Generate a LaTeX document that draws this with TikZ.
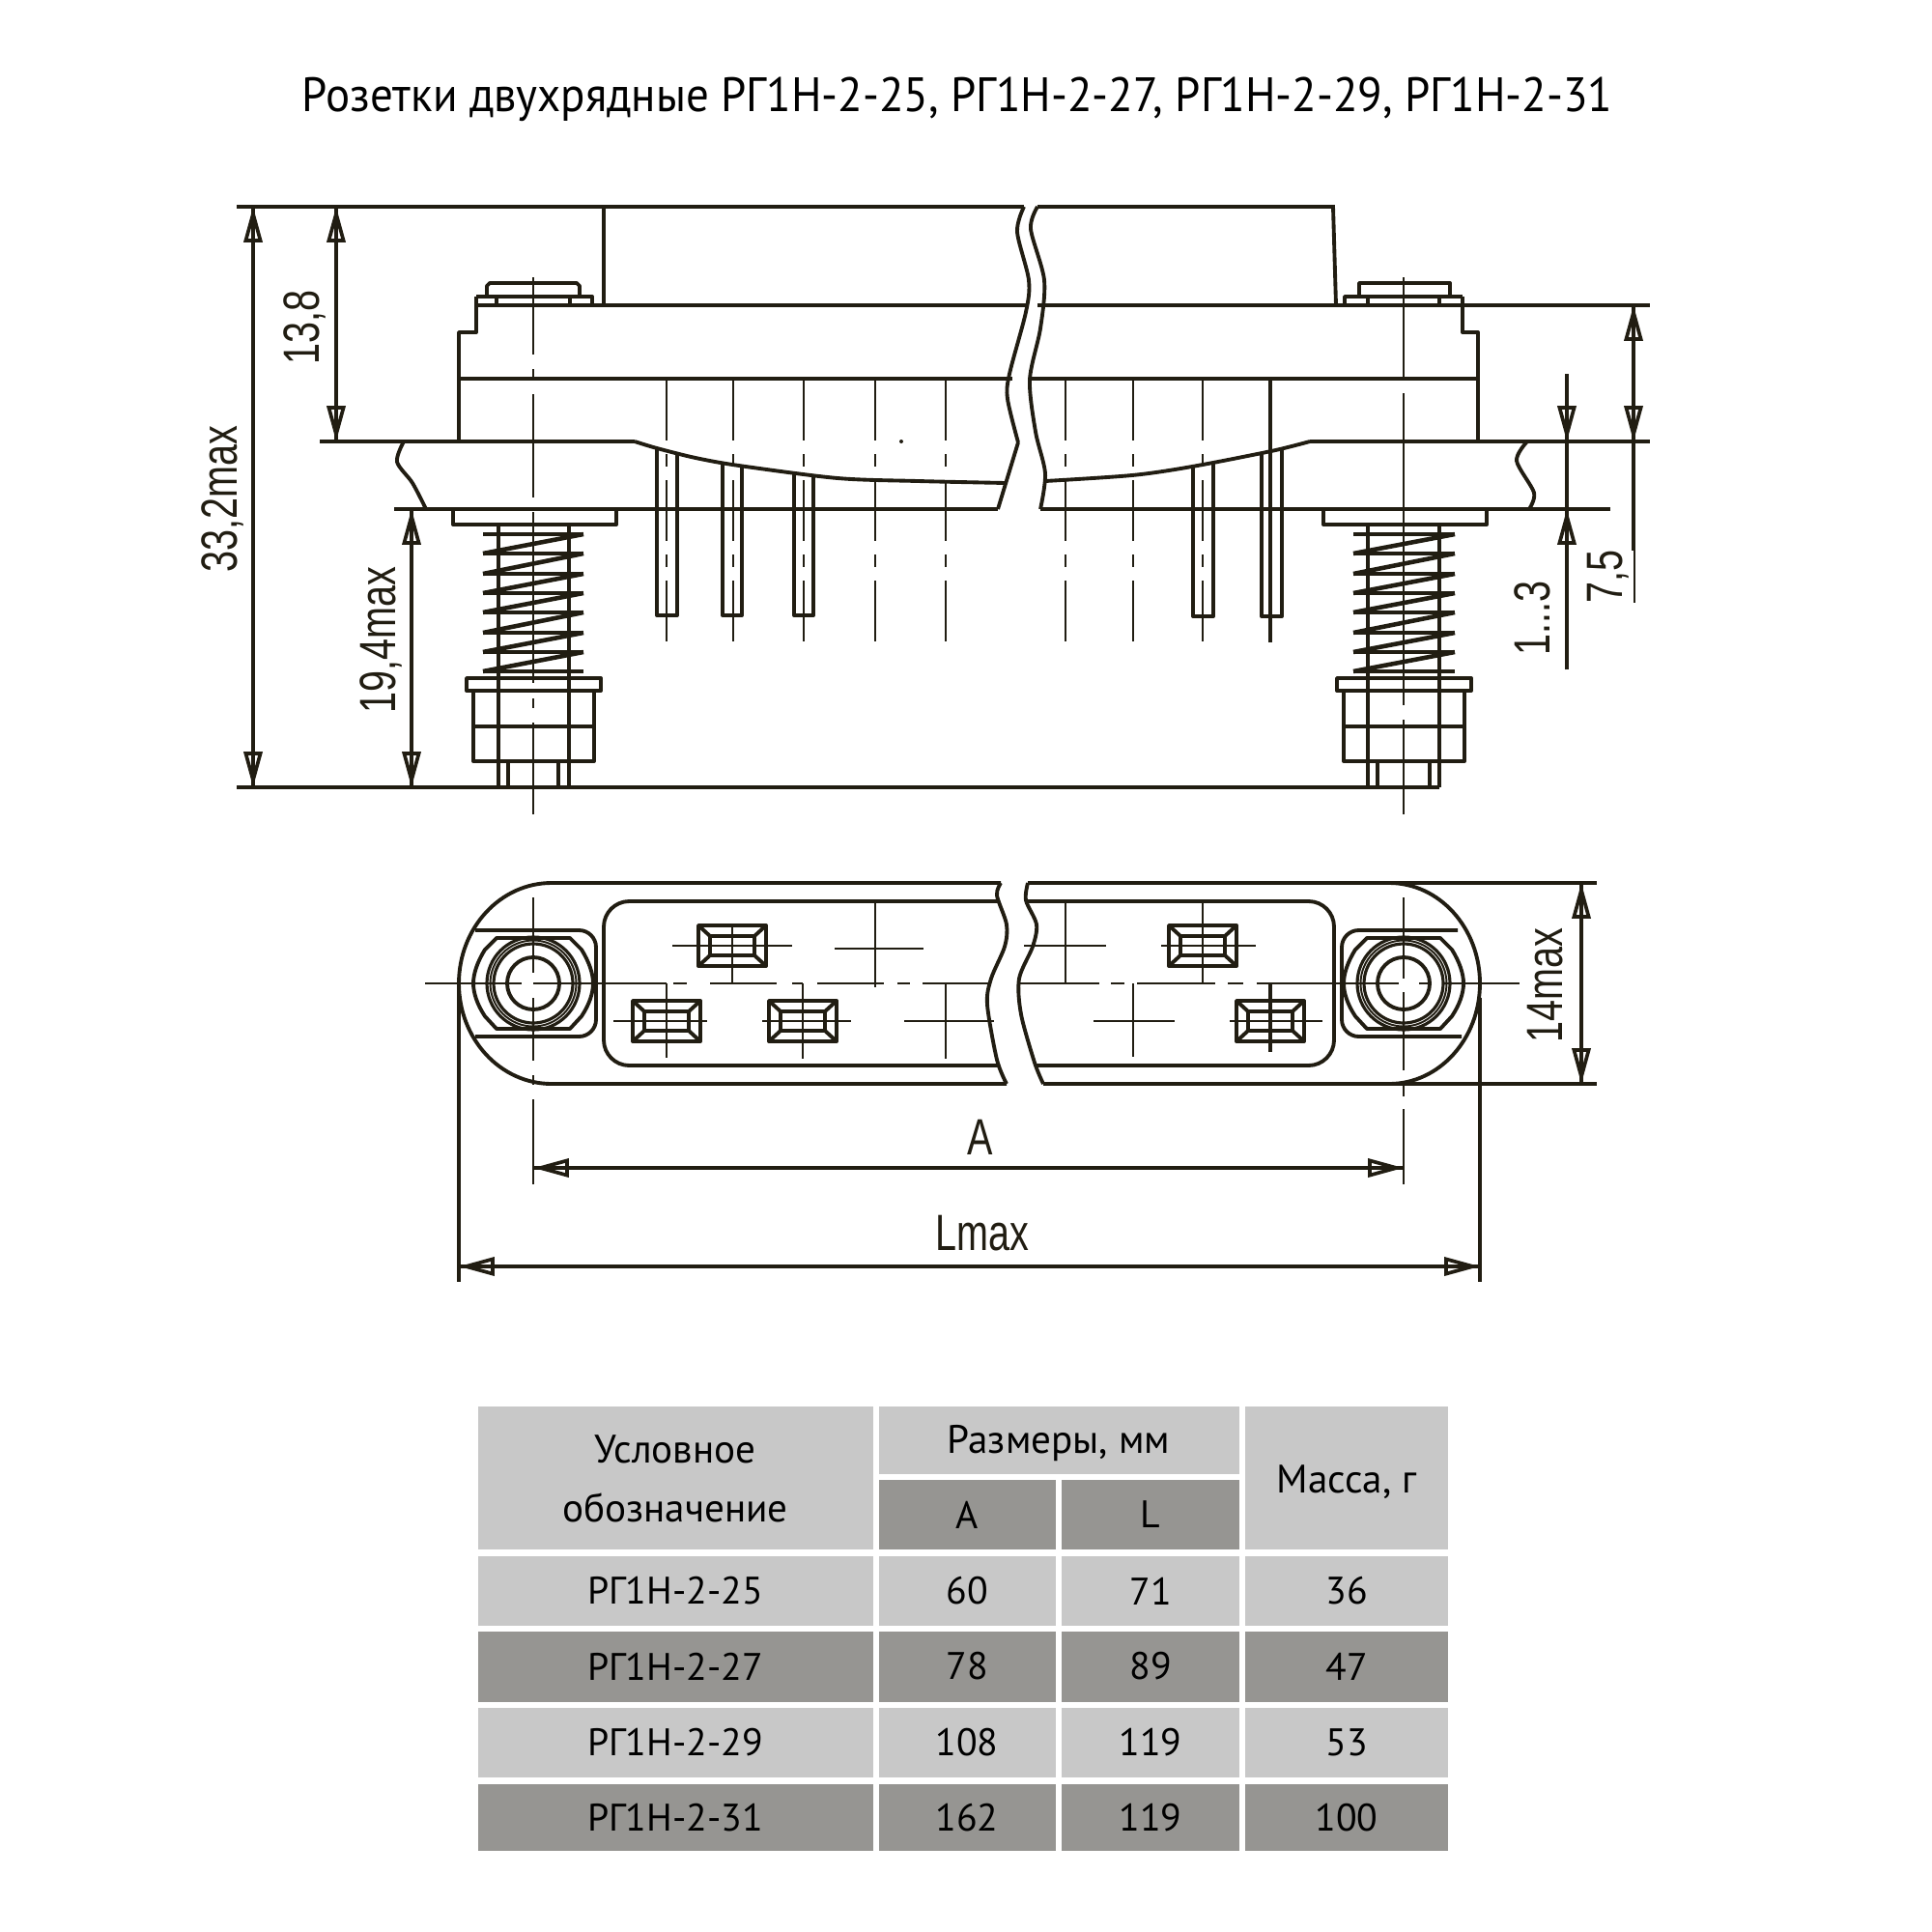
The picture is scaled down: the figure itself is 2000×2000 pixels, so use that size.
\documentclass[tikz,border=0pt]{standalone}
\usepackage{fontspec}
\usetikzlibrary{arrows.meta}
\newfontfamily\dimfont[FakeStretch=0.75]{Liberation Sans}
\newfontfamily\labelfont{PT Sans}
\newfontfamily\titlefont[FakeStretch=0.94]{PT Sans}
\definecolor{inkDark}{HTML}{211D12}
\definecolor{cellLight}{HTML}{C8C8C8}
\definecolor{cellDark}{HTML}{969592}
\tikzstyle{outline}=[draw=inkDark, line width = 1.1pt, line join = round]
\tikzstyle{coil}=[draw=inkDark, line width = 1.3pt, line join = round]
\tikzstyle{ring}=[draw=inkDark, line width = 0.9pt]
\tikzstyle{axis}=[draw=inkDark, line width = 0.55pt]
\tikzstyle{pinAxis}=[axis, dash pattern = on 17.9pt off 4pt on 3.7pt off 4pt]
\tikzstyle{extLine}=[draw=inkDark, line width = 1.1pt]
\tikzstyle{dimLine}=[draw=inkDark, line width = 1.05pt]
\tikzstyle{dimEnd}=[dimLine, -{Triangle[open, length = 10.5pt, width = 5.4pt]}, postaction = {draw, arrows = -}]
\tikzstyle{dimBoth}=[dimLine, {Triangle[open, length = 10.5pt, width = 5.4pt]}-{Triangle[open, length = 10.5pt, width = 5.4pt]}, postaction = {draw, arrows = -}]
\tikzstyle{dimText}=[inner sep = 0pt, text = inkDark, font = \dimfont\fontsize{15}{15}\selectfont]
\tikzstyle{cellText}=[inner sep = 0pt, text = black, font = \labelfont\fontsize{11.3}{11.3}\selectfont]
\tikzstyle{headText}=[inner sep = 0pt, text = black, font = \labelfont\fontsize{11.7}{11.7}\selectfont]
\newcommand{\contactBox}[2]{
\begin{scope}[shift = {(#1,#2)}]
\draw[outline] (-35,-21) rectangle (35,21);
\draw[outline] (-23,-10) rectangle (23,10);
\draw[outline] (-35,-21) -- (-23,-10) (35,-21) -- (23,-10) (-35,21) -- (-23,10) (35,21) -- (23,10);
\end{scope}}
\begin{document}
\begin{tikzpicture}[x = 0.01cm, y = -0.01cm]
\useasboundingbox (0,0) rectangle (2000,2000);
\node[inner sep = 0pt, text = black, font = \titlefont\fontsize{14.2}{14.2}\selectfont] (title) at (991,103) {Розетки двухрядные РГ1Н-2-25, РГ1Н-2-27, РГ1Н-2-29, РГ1Н-2-31};
% front view
\draw[extLine] (245,214) -- (1060,214);
\draw[extLine] (1074,214) -- (1380,214) -- (1383,316);
\draw[outline] (625,214) -- (625,316);
\draw[outline] (493,316) -- (1062,316);
\draw[extLine] (1074,316) -- (1708,316);
\draw[outline] (493,307) -- (493,344) -- (475,344) -- (475,457);
\draw[outline] (1514,307) -- (1514,344) -- (1530,344) -- (1530,457);
\draw[outline] (475,392) -- (1048,392);
\draw[outline] (1067,392) -- (1530,392);
\draw[extLine] (331,457) -- (657,457);
\draw[extLine] (1356,457) -- (1708,457);
\draw[extLine] (408,527) -- (1033,527);
\draw[extLine] (1077,527) -- (1667,527);
\draw[extLine] (245,815) -- (1490,815);
\draw[outline] plot[smooth] coordinates {(657,457) (680,464) (720,474) (765,482) (867,495) (950,498) (1041,500)};
\draw[outline] plot[smooth] coordinates {(1082,498) (1172,492) (1234,483) (1316,467) (1356,457)};
\draw[outline] plot[smooth] coordinates {(1060,214) (1053,240) (1065,290) (1062,323) (1045,387) (1043,413) (1054,458)};
\draw[outline] (1054,458) -- (1033,527);
\draw[outline] plot[smooth] coordinates {(1074,214) (1067,237) (1081,290) (1077,340) (1066,393) (1072,447) (1082,490) (1077,527)};
\draw[outline] plot[smooth] coordinates {(418,457) (411,478) (427,500) (441,527)};
\draw[outline] plot[smooth] coordinates {(1581,457) (1570,477) (1588,510) (1583,527)};
\fill[inkDark] (933,457) circle (2);
% bolt heads
\draw[outline] (504,307) -- (504,296) -- (507,293) -- (597,293) -- (600,296) -- (600,307);
\draw[outline] (493,307) -- (613,307) -- (613,316);
\draw[outline] (514,307) -- (514,316) (590,307) -- (590,316);
\draw[outline] (1407,307) -- (1407,293) -- (1501,293) -- (1501,307);
\draw[outline] (1392,316) -- (1392,307) -- (1514,307);
\draw[outline] (1416,307) -- (1416,316) (1490,307) -- (1490,316);
% flanges, rods and caps
\draw[outline] (469,527) -- (469,543) -- (638,543) -- (638,527);
\draw[outline] (1370,527) -- (1370,543) -- (1539,543) -- (1539,527);
\draw[outline] (516,543) -- (516,815) (589,543) -- (589,815);
\draw[outline] (1416,543) -- (1416,815) (1490,543) -- (1490,815);
\draw[outline] (483,702) rectangle (622,715);
\draw[outline] (1384,702) rectangle (1523,715);
\draw[outline] (490,715) -- (490,788) -- (615,788) -- (615,715) (490,752) -- (615,752);
\draw[outline] (1391,715) -- (1391,788) -- (1516,788) -- (1516,715) (1391,752) -- (1516,752);
\draw[outline] (526,788) -- (526,815) (578,788) -- (578,815);
\draw[outline] (1426,788) -- (1426,815) (1480,788) -- (1480,815);
% springs
\foreach \xa/\xb in {500/604, 1401/1506}{
\foreach \ya/\yb in {553/573, 573/594, 594/614, 614/634, 634/655, 655/675, 675/695}{
\draw[coil] (\xa,\ya) -- (\xb,\ya);
\draw[coil] (\xb,\ya) -- (\xa,\yb);
}
\draw[outline] (\xa,695) -- (\xb,695);
}
% pins
\draw[outline] (680,465) -- (680,637) -- (701,637) -- (701,470);
\draw[outline] (748,479) -- (748,637) -- (768,637) -- (768,483);
\draw[outline] (822,489) -- (822,637) -- (842,637) -- (842,492);
\draw[outline] (1235,484) -- (1235,638) -- (1256,638) -- (1256,479);
\draw[outline] (1306,470) -- (1306,638) -- (1327,638) -- (1327,465);
\foreach \x in {690, 759, 832, 906, 979, 1103, 1173, 1245}{
\draw[pinAxis] (\x,393) -- (\x,665);
}
\draw[draw=inkDark, line width = 0.9pt] (1315,393) -- (1315,665);
\foreach \ya/\yb in {287/367, 382/390, 408/515, 530/707, 723/733, 748/843}{
\draw[axis] (552,\ya) -- (552,\yb);
}
\foreach \ya/\yb in {287/393, 407/730, 745/843}{
\draw[axis] (1453,\ya) -- (1453,\yb);
}
% front view dimensions
\draw[dimBoth] (262,214) -- (262,815);
\draw[dimBoth] (348,214) -- (348,457);
\draw[dimBoth] (426,527) -- (426,815);
\draw[dimEnd] (1622,387) -- (1622,457);
\draw[dimEnd] (1622,693) -- (1622,527);
\draw[dimLine] (1622,457) -- (1622,527);
\draw[dimBoth] (1691,316) -- (1691,457);
\draw[dimLine] (1691,457) -- (1691,570);
\draw[axis] (1692,570) -- (1692,624);
\node[dimText, rotate = 90] (dimTotal) at (230,517) {33,2max};
\node[dimText, rotate = 90] (dimBody) at (315,339) {13,8};
\node[dimText, rotate = 90] (dimSpring) at (394,663) {19,4max};
\node[dimText, rotate = 90] (dimGap) at (1586,640) {1...3};
\node[dimText, rotate = 90] (dimPlate) at (1665,597) {7,5};
% plan view
\draw[outline] (1036,914) -- (571,914) arc[start angle = 270, end angle = 90, x radius = 96, y radius = 104] -- (1042,1122);
\draw[extLine] (1064,914) -- (1653,914);
\draw[extLine] (1080,1122) -- (1653,1122);
\draw[outline] (1438,914) arc[start angle = 270, end angle = 450, x radius = 94, y radius = 104];
\draw[outline] plot[smooth] coordinates {(1036,914) (1032,927) (1042,957) (1040,980) (1026,1013) (1022,1040) (1032,1097) (1042,1122)};
\draw[outline] plot[smooth] coordinates {(1064,914) (1062,932) (1073,957) (1069,980) (1055,1013) (1057,1050) (1071,1100) (1080,1122)};
\draw[outline, rounded corners = 7.5pt] (1033,933) -- (625,933) -- (625,1103) -- (1033,1103);
\draw[outline, rounded corners = 7.5pt] (1062,933) -- (1381,933) -- (1381,1103) -- (1073,1103);
\draw[outline, rounded corners = 5pt] (492,963) -- (617,963) -- (617,1073) -- (492,1073);
\draw[outline, rounded corners = 5pt] (1509,963) -- (1389,963) -- (1389,1073) -- (1513,1073);
\foreach \cx in {552, 1453}{
\begin{scope}[shift = {(\cx,1018)}]
\draw[outline] (-38,-47) -- (38,-47) -- (50,-35) .. controls (58,-22) and (62,-10) .. (62,0) .. controls (62,10) and (58,22) .. (50,34) -- (38,47) -- (-38,47) -- (-50,34) .. controls (-58,22) and (-62,10) .. (-62,0) .. controls (-62,-10) and (-58,-22) .. (-50,-35) -- cycle;
\draw[ring] (0,0) circle (48);
\draw[axis] (0,0) circle (44.5);
\draw[ring] (0,0) circle (41);
\draw[outline] (0,0) circle (27);
\end{scope}
}
\contactBox{758}{979}
\contactBox{690}{1057}
\contactBox{831}{1057}
\contactBox{1245}{979}
\contactBox{1315}{1057}
\foreach \xa/\xb in {440/540, 552/690, 697/711, 735/804, 820/831, 846/915, 929/942, 955/1024, 1056/1138, 1150/1164, 1177/1258, 1271/1287, 1301/1448, 1469/1481, 1495/1573}{
\draw[axis] (\xa,1018) -- (\xb,1018);
}
\foreach \ya/\yb in {929/1007, 1033/1098, 1113/1123, 1138/1226}{
\draw[axis] (552,\ya) -- (552,\yb);
}
\foreach \ya/\yb in {929/1013, 1027/1108, 1122/1135, 1148/1226}{
\draw[axis] (1453,\ya) -- (1453,\yb);
}
\draw[axis] (696,979) -- (820,979) (758,958) -- (758,1018);
\draw[axis] (635,1057) -- (732,1057) (690,1018) -- (690,1095);
\draw[axis] (789,1057) -- (881,1057) (831,1018) -- (831,1096);
\draw[axis] (864,982) -- (956,982) (906,933) -- (906,1022);
\draw[axis] (936,1057) -- (1029,1057) (979,1018) -- (979,1096);
\draw[axis] (1060,979) -- (1145,979) (1103,933) -- (1103,1018);
\draw[axis] (1202,979) -- (1300,979) (1245,933) -- (1245,1018);
\draw[axis] (1132,1057) -- (1216,1057) (1173,1018) -- (1173,1094);
\draw[axis] (1273,1057) -- (1369,1057);
\draw[draw=inkDark, line width = 0.9pt] (1315,1018) -- (1315,1089);
% plan view dimensions
\draw[extLine] (475,1018) -- (475,1327);
\draw[extLine] (1532,1033) -- (1532,1327);
\draw[dimBoth] (1637,914) -- (1637,1122);
\draw[dimBoth] (552,1209) -- (1453,1209);
\draw[dimBoth] (475,1311) -- (1532,1311);
\node[dimText, rotate = 90] (dimWidth) at (1600,1020) {14max};
\node[dimText] (dimA) at (1015,1177) {A};
\node[dimText] (dimL) at (1017,1277) {Lmax};
% table
\fill[cellLight] (495,1456) rectangle (904,1604);
\fill[cellLight] (910,1456) rectangle (1283,1526);
\fill[cellLight] (1289,1456) rectangle (1499,1604);
\fill[cellDark] (910,1532) rectangle (1093,1604);
\fill[cellDark] (1099,1532) rectangle (1283,1604);
\foreach \ya/\yb/\shade in {1611/1683/cellLight, 1689/1762/cellDark, 1768/1840/cellLight, 1847/1916/cellDark}{
\fill[\shade] (495,\ya) rectangle (904,\yb);
\fill[\shade] (910,\ya) rectangle (1093,\yb);
\fill[\shade] (1099,\ya) rectangle (1283,\yb);
\fill[\shade] (1289,\ya) rectangle (1499,\yb);
}
\node[headText] (headNameA) at (699,1500) {Условное};
\node[headText] (headNameB) at (699,1561) {обозначение};
\node[headText] (headSize) at (1096,1494) {Размеры, мм};
\node[headText] (headMass) at (1394,1534) {Масса, г};
\node[cellText] (headA) at (1001,1568) {A};
\node[cellText] (headL) at (1191,1568) {L};
\foreach \y/\name/\va/\vl/\vm in {1647/РГ1Н-2-25/60/71/36, 1725/РГ1Н-2-27/78/89/47, 1804/РГ1Н-2-29/108/119/53, 1882/РГ1Н-2-31/162/119/100}{
\node[cellText] (name\y) at (699,\y) {\name};
\node[cellText] (sizeA\y) at (1001,\y) {\va};
\node[cellText] (sizeL\y) at (1191,\y) {\vl};
\node[cellText] (mass\y) at (1394,\y) {\vm};
}
\end{tikzpicture}
\end{document}
